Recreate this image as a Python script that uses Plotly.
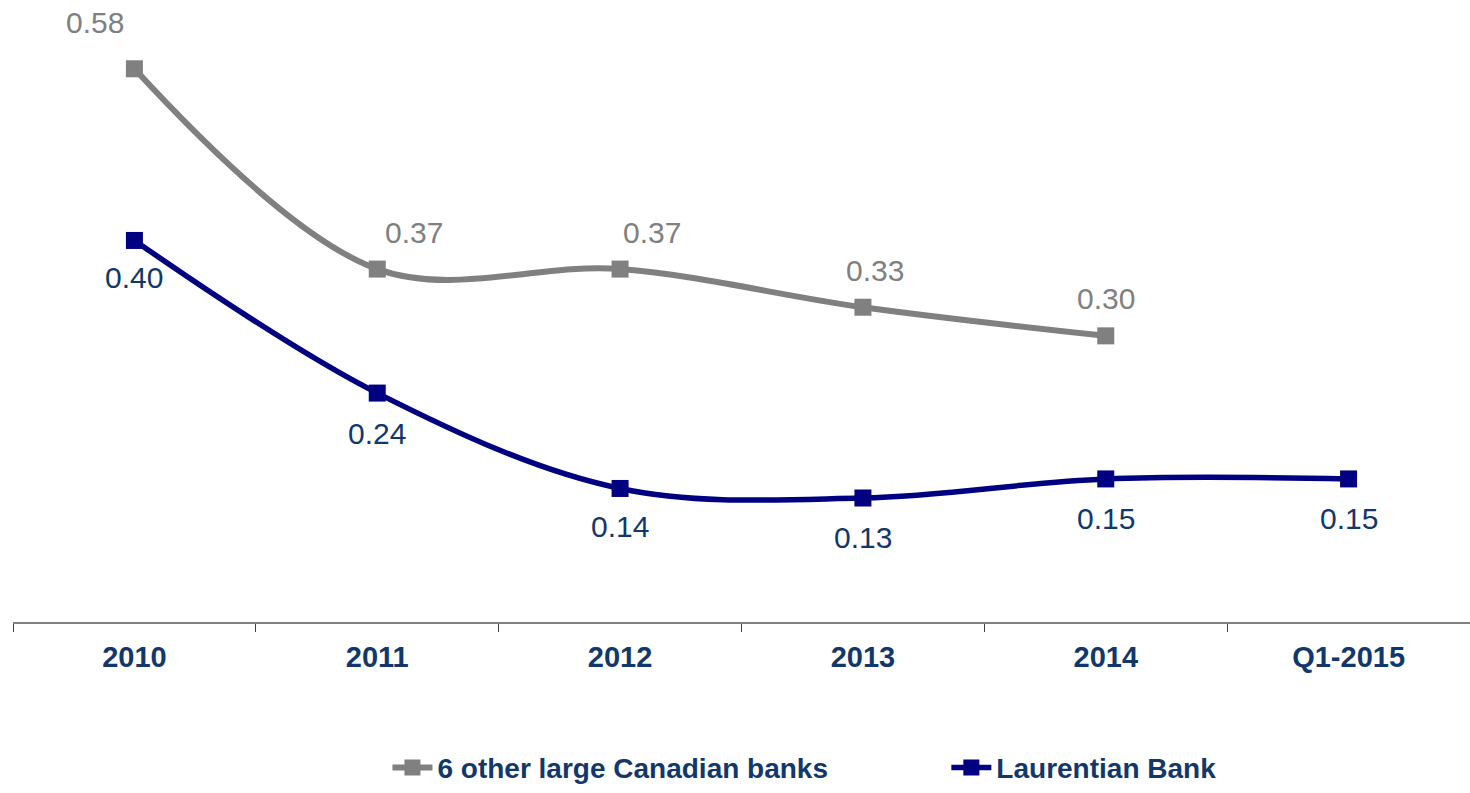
import plotly.graph_objects as go

# Categories and series values
periods = ["2010", "2011", "2012", "2013", "2014", "Q1-2015"]
other_banks = [0.58, 0.37, 0.37, 0.33, 0.30, None]
laurentian = [0.40, 0.24, 0.14, 0.13, 0.15, 0.15]

# Label offsets in pixels (x, y) relative to each point
other_offsets = [(-39, 46), (37, 37), (32, 37), (12, 37), (0, 37)]
laurentian_offsets = [(0, -37), (0, -40), (0, -38), (0, -39), (0, -40), (0, -40)]

GRAY = "#808080"
NAVY = "#000080"
TEXT_NAVY = "#12386B"
FONT = "Liberation Sans, Arial, sans-serif"

fig = go.Figure()
fig.add_trace(go.Scatter(
    x=periods, y=other_banks, name="6 other large Canadian banks",
    mode="lines+markers", line=dict(color=GRAY, width=6, shape="spline", smoothing=1),
    marker=dict(symbol="square", size=17, color=GRAY), legend="legend",
))
fig.add_trace(go.Scatter(
    x=periods, y=laurentian, name="Laurentian Bank",
    mode="lines+markers", line=dict(color=NAVY, width=5.5, shape="spline", smoothing=1),
    marker=dict(symbol="square", size=17, color=NAVY), legend="legend2",
))

# Value labels, placed by category index on the category axis
annotations = []
for i, (yv, (dx, dy)) in enumerate(zip(other_banks, other_offsets)):
    if yv is None:
        continue
    annotations.append(dict(x=i, y=yv, xref="x", yref="y", text=f"{yv:.2f}",
                            showarrow=False, xshift=dx, yshift=dy,
                            font=dict(family=FONT, size=30, color=GRAY)))
for i, (yv, (dx, dy)) in enumerate(zip(laurentian, laurentian_offsets)):
    annotations.append(dict(x=i, y=yv, xref="x", yref="y", text=f"{yv:.2f}",
                            showarrow=False, xshift=dx, yshift=dy,
                            font=dict(family=FONT, size=30, color=TEXT_NAVY)))

legend_style = dict(orientation="h", xanchor="left", y=-0.235, yanchor="middle",
                    font=dict(family=FONT, size=28, color=TEXT_NAVY, weight="bold"),
                    itemwidth=40, bgcolor="rgba(0,0,0,0)")

fig.update_layout(
    width=1470, height=793,
    margin=dict(l=13, r=0, t=2, b=169),
    paper_bgcolor="white", plot_bgcolor="white",
    font=dict(family=FONT),
    annotations=annotations,
    showlegend=True,
    legend=dict(x=0.257, **legend_style),
    legend2=dict(x=0.6406, **legend_style),
    xaxis=dict(type="category", range=[-0.5, 5.5], showgrid=False, zeroline=False,
               showline=True, linecolor=GRAY, linewidth=2,
               ticks="outside", tickson="boundaries", ticklen=8, tickcolor="#404040",
               tickfont=dict(family=FONT, size=29, color=TEXT_NAVY, weight="bold"),
               ticklabelstandoff=8),
    yaxis=dict(range=[0, 0.65], visible=False, showgrid=False, zeroline=False),
)

fig.write_html("out.html")
